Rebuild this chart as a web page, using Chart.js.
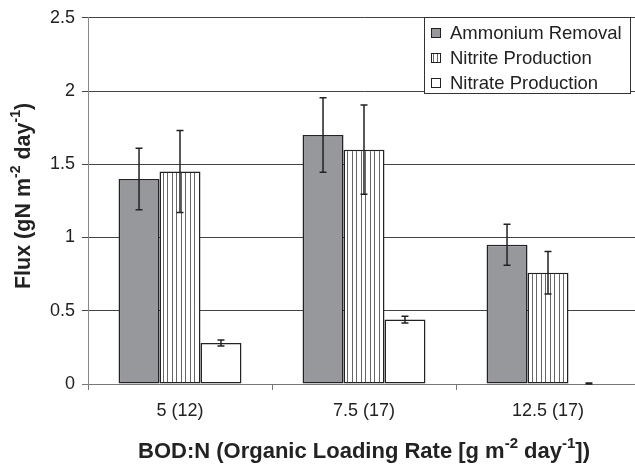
<!DOCTYPE html>
<html>
<head>
<meta charset="utf-8">
<script src="https://cdn.jsdelivr.net/npm/chart.js@4/dist/chart.umd.min.js"></script>
<style>
  html, body { margin: 0; padding: 0; overflow: hidden; background: #fff; }
  #wrap { width: 640px; height: 466px; }
</style>
</head>
<body>
<div id="wrap"><canvas id="myChart"></canvas></div>
<script>
// data
let categories = ['5 (12)', '7.5 (17)', '12.5 (17)'];
let seriesNames = ['Ammonium Removal', 'Nitrite Production', 'Nitrate Production'];
let ammonium = [1.40, 1.70, 0.95];
let ammoniumErr = [0.21, 0.255, 0.14];
let nitrite = [1.45, 1.60, 0.76];
let nitriteErr = [0.28, 0.305, 0.145];
let nitrate = [0.28, 0.44, 0.003];
let nitrateErr = [0.02, 0.023, 0.003];
let yTicks = [0, 0.5, 1, 1.5, 2, 2.5];

let font = "'Liberation Sans', Arial, sans-serif";
let ink = '#222';

// vertical stripes for nitrite bars
function stripes() {
  let c = document.createElement('canvas');
  c.width = 9;
  c.height = 4;
  let g = c.getContext('2d');
  g.fillStyle = '#fff';
  g.fillRect(0, 0, 9, 4);
  g.fillStyle = '#666';
  g.fillRect(1, 0, 1, 4);
  g.fillRect(5, 0, 1, 4);
  return g.createPattern(c, 'repeat');
}
let stripePattern = stripes();

let errors = [ammoniumErr, nitriteErr, nitrateErr];

const errorBars = {
  id: 'errorBars',
  afterDatasetsDraw(chart) {
    let ctx = chart.ctx;
    let y = chart.scales.y;
    ctx.save();
    ctx.strokeStyle = ink;
    ctx.lineWidth = 1.5;
    chart.data.datasets.forEach((ds, i) => {
      let meta = chart.getDatasetMeta(i);
      meta.data.forEach((bar, j) => {
        let v = ds.data[j];
        let e = errors[i][j];
        let top = y.getPixelForValue(v + e);
        let bot = y.getPixelForValue(v - e);
        ctx.beginPath();
        ctx.moveTo(bar.x, top);
        ctx.lineTo(bar.x, bot);
        ctx.moveTo(bar.x - 3.5, top);
        ctx.lineTo(bar.x + 3.5, top);
        ctx.moveTo(bar.x - 3.5, bot);
        ctx.lineTo(bar.x + 3.5, bot);
        ctx.stroke();
      });
    });
    ctx.restore();
  }
};

// text with superscripts, centred on (cx, cy)
function drawRich(ctx, parts, cx, cy, size, rotate) {
  ctx.save();
  ctx.translate(cx, cy);
  if (rotate) ctx.rotate(-Math.PI / 2);
  ctx.fillStyle = ink;
  ctx.textBaseline = 'middle';
  ctx.textAlign = 'left';
  let small = Math.round(size * 0.66);
  let total = 0;
  parts.forEach(p => {
    ctx.font = 'bold ' + (p.sup ? small : size) + 'px ' + font;
    total += ctx.measureText(p.t).width;
  });
  let x = -total / 2;
  parts.forEach(p => {
    ctx.font = 'bold ' + (p.sup ? small : size) + 'px ' + font;
    ctx.fillText(p.t, x, p.sup ? -size * 0.36 : 0);
    x += ctx.measureText(p.t).width;
  });
  ctx.restore();
}

const titles = {
  id: 'titles',
  afterDraw(chart) {
    let ctx = chart.ctx;
    drawRich(ctx, [{t: 'Flux (gN m'}, {t: '-2', sup: true}, {t: ' day'}, {t: '-1', sup: true}, {t: ')'}], 24, 196, 21.5, true);
    drawRich(ctx, [{t: 'BOD:N (Organic Loading Rate [g m'}, {t: '-2', sup: true}, {t: ' day'}, {t: '-1', sup: true}, {t: '])'}], 364, 452, 22, false);
  }
};

const boxLegend = {
  id: 'boxLegend',
  afterDraw(chart) {
    let ctx = chart.ctx;
    ctx.save();
    ctx.fillStyle = '#fff';
    ctx.fillRect(424.5, 17.5, 206, 76);
    ctx.strokeStyle = '#333';
    ctx.lineWidth = 1;
    ctx.strokeRect(424.5, 17.5, 206, 76);
    ctx.font = '18.5px ' + font;
    ctx.textBaseline = 'middle';
    chart.data.datasets.forEach((ds, i) => {
      let cy = 33 + i * 25;
      ctx.fillStyle = ds.backgroundColor;
      ctx.fillRect(431.5, cy - 4.5, 9, 9);
      ctx.strokeStyle = ink;
      ctx.strokeRect(431.5, cy - 4.5, 9, 9);
      ctx.fillStyle = ink;
      ctx.fillText(ds.label, 450, cy + 1);
    });
    ctx.restore();
  }
};

const data = {
  labels: categories,
  datasets: [
    { label: seriesNames[0], data: ammonium, backgroundColor: '#97989c' },
    { label: seriesNames[1], data: nitrite, backgroundColor: stripePattern },
    { label: seriesNames[2], data: nitrate, backgroundColor: '#fff' }
  ].map(d => Object.assign(d, {
    borderColor: ink,
    borderWidth: 1.5,
    borderSkipped: false,
    barPercentage: 1,
    categoryPercentage: 0.668
  }))
};

const config = {
  type: 'bar',
  data,
  options: {
    responsive: true,
    maintainAspectRatio: false,
    animation: false,
    devicePixelRatio: 1,
    layout: { padding: { top: 16, left: 0, right: 0, bottom: 0 } },
    plugins: {
      legend: { display: false },
      tooltip: { enabled: false }
    },
    scales: {
      x: {
        afterFit(scale) { scale.height = 82; },
        grid: { drawOnChartArea: false, tickLength: 6, color: '#777' },
        border: { color: '#777' },
        ticks: { color: ink, font: { family: font, size: 18 }, padding: 10 }
      },
      y: {
        min: 0,
        max: 2.5,
        afterFit(scale) { scale.width = 88; },
        afterBuildTicks(scale) { scale.ticks = yTicks.map(v => ({ value: v })); },
        grid: {
          color: ctx => ctx.index === 0 ? '#777' : '#444',
          tickLength: 6
        },
        border: { color: '#888' },
        ticks: {
          color: ink,
          font: { family: font, size: 18 },
          padding: 7,
          callback: v => String(v)
        }
      }
    }
  },
  plugins: [errorBars, titles, boxLegend]
};

let myChart = new Chart(document.getElementById('myChart'), config);
</script>
</body>
</html>
